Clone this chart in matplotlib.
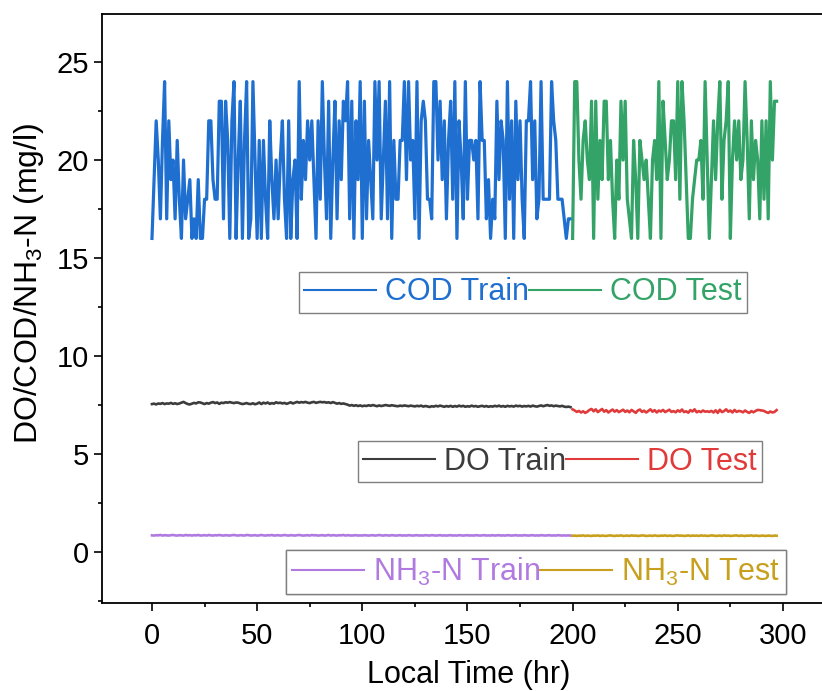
import matplotlib
matplotlib.use("Agg")
import matplotlib.pyplot as plt
from matplotlib.lines import Line2D
from matplotlib.ticker import MultipleLocator

plt.rcParams['font.family'] = ['Liberation Sans', 'DejaVu Sans']
plt.rcParams['mathtext.fontset'] = 'custom'
plt.rcParams['mathtext.rm'] = 'Liberation Sans'
plt.rcParams['mathtext.it'] = 'Liberation Sans:italic'
plt.rcParams['mathtext.bf'] = 'Liberation Sans:bold'

# ---------------- data ----------------
train_start = 0
test_start = 200

cod_train = [
    16, 19, 22, 20, 17, 21, 24, 17, 22, 19,
    20, 17, 21, 18, 16, 20, 17, 18, 19, 16,
    17, 16, 19, 16, 16, 18, 18, 22, 22, 19,
    18, 18, 23, 23, 17, 23, 21, 16, 22, 24,
    16, 20, 23, 16, 21, 24, 16, 17, 24, 20,
    16, 21, 16, 21, 18, 16, 22, 19, 17, 20,
    17, 20, 22, 18, 16, 22, 16, 19, 20, 16,
    24, 18, 21, 19, 22, 20, 22, 19, 16, 22,
    18, 24, 20, 17, 23, 16, 20, 23, 17, 22,
    19, 23, 22, 24, 17, 23, 16, 22, 19, 24,
    16, 23, 17, 21, 19, 17, 24, 20, 24, 17,
    20, 23, 17, 24, 16, 21, 18, 18, 21, 21,
    24, 19, 24, 20, 21, 17, 24, 16, 22, 23,
    22, 18, 18, 17, 24, 24, 20, 23, 19, 22,
    17, 21, 23, 18, 24, 16, 22, 20, 17, 24,
    18, 21, 21, 20, 21, 17, 24, 21, 21, 17,
    19, 16, 18, 17, 23, 19, 22, 21, 16, 24,
    18, 22, 16, 23, 19, 22, 18, 16, 22, 22,
    24, 19, 22, 17, 18, 24, 18, 18, 18, 18,
    24, 22, 21, 18, 18, 18, 17, 16, 17, 17,
]

cod_test = [
    16, 24, 24, 20, 18, 21, 22, 20, 19, 23,
    16, 23, 18, 21, 19, 23, 23, 19, 21, 18,
    16, 20, 18, 23, 20, 23, 18, 17, 16, 21,
    19, 16, 21, 20, 19, 20, 18, 16, 20, 21,
    19, 24, 16, 23, 21, 19, 20, 22, 22, 19,
    24, 18, 24, 22, 19, 16, 16, 18, 19, 20,
    20, 21, 18, 24, 20, 16, 19, 22, 19, 22,
    24, 18, 21, 22, 24, 16, 20, 22, 20, 22,
    19, 20, 24, 21, 17, 22, 19, 21, 20, 17,
    22, 18, 22, 17, 24, 20, 23, 23,
]

do_train = [
    7.55, 7.57, 7.53, 7.58, 7.56, 7.60, 7.55, 7.58, 7.57, 7.61, 7.56, 7.59, 7.55, 7.58, 7.62, 7.66, 7.60, 7.55, 7.53, 7.57,
    7.61, 7.58, 7.64, 7.63, 7.59, 7.55, 7.60, 7.57, 7.62, 7.65, 7.60, 7.63, 7.56, 7.62, 7.60, 7.64, 7.62, 7.65, 7.62, 7.60,
    7.63, 7.62, 7.58, 7.55, 7.57, 7.60, 7.56, 7.55, 7.59, 7.54, 7.57, 7.63, 7.55, 7.62, 7.58, 7.63, 7.56, 7.60, 7.57, 7.64,
    7.60, 7.62, 7.58, 7.61, 7.56, 7.60, 7.64, 7.58, 7.62, 7.66, 7.62, 7.65, 7.63, 7.66, 7.62, 7.60, 7.64, 7.66, 7.61, 7.64,
    7.66, 7.64, 7.65, 7.62, 7.64, 7.60, 7.65, 7.61, 7.57, 7.60, 7.56, 7.58, 7.55, 7.52, 7.47, 7.50, 7.46, 7.49, 7.45, 7.48,
    7.44, 7.47, 7.45, 7.49, 7.46, 7.50, 7.47, 7.44, 7.48, 7.45, 7.47, 7.50, 7.48, 7.46, 7.49, 7.47, 7.45, 7.44, 7.47, 7.45,
    7.48, 7.46, 7.44, 7.47, 7.45, 7.43, 7.46, 7.44, 7.47, 7.42, 7.45, 7.43, 7.40, 7.44, 7.42, 7.46, 7.43, 7.47, 7.44, 7.41,
    7.45, 7.42, 7.46, 7.41, 7.45, 7.42, 7.47, 7.43, 7.46, 7.41, 7.44, 7.42, 7.47, 7.43, 7.45, 7.41, 7.44, 7.46, 7.42, 7.45,
    7.41, 7.44, 7.42, 7.46, 7.43, 7.47, 7.42, 7.45, 7.41, 7.46, 7.43, 7.45, 7.42, 7.47, 7.44, 7.46, 7.42, 7.45, 7.43, 7.46,
    7.42, 7.47, 7.44, 7.42, 7.45, 7.48, 7.44, 7.47, 7.50, 7.46, 7.48, 7.44, 7.47, 7.45, 7.43, 7.46, 7.42, 7.40, 7.42, 7.39,
]

do_test = [
    7.28, 7.22, 7.15, 7.20, 7.12, 7.18, 7.10, 7.16, 7.25, 7.30, 7.18, 7.28, 7.14, 7.22, 7.30, 7.16, 7.24, 7.12, 7.20, 7.27,
    7.16, 7.24, 7.14, 7.20, 7.26, 7.15, 7.22, 7.13, 7.25, 7.18, 7.10, 7.22, 7.27, 7.15, 7.21, 7.12, 7.20, 7.28, 7.16, 7.24,
    7.12, 7.22, 7.17, 7.25, 7.14, 7.20, 7.26, 7.15, 7.19, 7.13, 7.23, 7.16, 7.27, 7.14, 7.18, 7.11, 7.24, 7.17, 7.28, 7.13,
    7.19, 7.14, 7.22, 7.16, 7.18, 7.15, 7.20, 7.12, 7.23, 7.10, 7.26, 7.14, 7.19, 7.28, 7.16, 7.22, 7.12, 7.25, 7.15, 7.20,
    7.18, 7.13, 7.22, 7.15, 7.10, 7.19, 7.13, 7.20, 7.25, 7.24, 7.22, 7.20, 7.14, 7.10, 7.17, 7.12, 7.15, 7.24,
]

nh3_train = [
    0.85, 0.84, 0.86, 0.85, 0.87, 0.84, 0.86, 0.85, 0.84, 0.86, 0.87, 0.85, 0.84, 0.86, 0.85, 0.84, 0.87, 0.85, 0.86, 0.84,
    0.86, 0.85, 0.87, 0.84, 0.85, 0.86, 0.84, 0.87, 0.85, 0.84, 0.86, 0.85, 0.87, 0.85, 0.84, 0.86, 0.85, 0.84, 0.86, 0.87,
    0.85, 0.84, 0.86, 0.85, 0.84, 0.87, 0.86, 0.84, 0.85, 0.86, 0.84, 0.85, 0.87, 0.85, 0.84, 0.86, 0.85, 0.87, 0.84, 0.85,
    0.86, 0.84, 0.85, 0.87, 0.85, 0.84, 0.86, 0.85, 0.84, 0.86, 0.87, 0.85, 0.84, 0.85, 0.86, 0.84, 0.87, 0.85, 0.86, 0.84,
    0.85, 0.86, 0.84, 0.85, 0.87, 0.84, 0.86, 0.85, 0.84, 0.86, 0.85, 0.87, 0.84, 0.86, 0.85, 0.84, 0.85, 0.86, 0.84, 0.85,
    0.84, 0.86, 0.85, 0.84, 0.85, 0.86, 0.84, 0.85, 0.87, 0.85, 0.84, 0.86, 0.85, 0.84, 0.86, 0.85, 0.84, 0.85, 0.86, 0.84,
    0.85, 0.84, 0.86, 0.85, 0.84, 0.85, 0.86, 0.84, 0.85, 0.84, 0.86, 0.85, 0.84, 0.86, 0.85, 0.84, 0.85, 0.86, 0.84, 0.85,
    0.84, 0.85, 0.86, 0.84, 0.85, 0.84, 0.86, 0.85, 0.84, 0.85, 0.86, 0.84, 0.85, 0.84, 0.86, 0.85, 0.84, 0.85, 0.86, 0.84,
    0.85, 0.84, 0.86, 0.84, 0.85, 0.86, 0.84, 0.85, 0.84, 0.86, 0.85, 0.84, 0.85, 0.86, 0.84, 0.85, 0.84, 0.86, 0.85, 0.84,
    0.85, 0.86, 0.84, 0.85, 0.84, 0.86, 0.85, 0.84, 0.85, 0.86, 0.84, 0.85, 0.84, 0.86, 0.85, 0.84, 0.85, 0.84, 0.85, 0.84,
]

nh3_test = [
    0.83, 0.84, 0.82, 0.84, 0.83, 0.85, 0.82, 0.84, 0.83, 0.82, 0.84, 0.83, 0.85, 0.82, 0.84, 0.83, 0.82, 0.84, 0.85, 0.83,
    0.82, 0.84, 0.83, 0.85, 0.82, 0.83, 0.84, 0.82, 0.85, 0.83, 0.84, 0.82, 0.83, 0.85, 0.84, 0.82, 0.83, 0.84, 0.82, 0.85,
    0.83, 0.82, 0.84, 0.83, 0.85, 0.82, 0.84, 0.83, 0.82, 0.84, 0.85, 0.83, 0.84, 0.82, 0.83, 0.85, 0.82, 0.84, 0.83, 0.84,
    0.82, 0.85, 0.83, 0.84, 0.82, 0.83, 0.85, 0.84, 0.82, 0.83, 0.84, 0.82, 0.85, 0.83, 0.84, 0.82, 0.83, 0.84, 0.85, 0.82,
    0.84, 0.83, 0.82, 0.84, 0.83, 0.85, 0.82, 0.84, 0.83, 0.82, 0.84, 0.83, 0.82, 0.84, 0.83, 0.82, 0.84, 0.83,
]

x_train = list(range(train_start, train_start + len(cod_train)))
x_test = list(range(test_start, test_start + len(cod_test)))

# ---------------- styles ----------------
c_cod_tr, c_cod_te = '#1f6fd0', '#34a367'
c_do_tr, c_do_te = '#3c3c3c', '#e03a3a'
c_nh_tr, c_nh_te = '#b07ae0', '#c9a01e'

W, H = 822, 691
fig = plt.figure(figsize=(W / 100, H / 100), dpi=100)
ax_left, ax_right, ax_top, ax_bot = 101.5, 835.5, 14, 603
ax = fig.add_axes([ax_left / W, 1 - ax_bot / H, (ax_right - ax_left) / W, (ax_bot - ax_top) / H])

ax.plot(x_train, cod_train, color=c_cod_tr, lw=2.3)
ax.plot(x_test, cod_test, color=c_cod_te, lw=2.3)
ax.plot(x_train, do_train, color=c_do_tr, lw=1.9)
ax.plot(x_test, do_test, color=c_do_te, lw=1.9)
ax.plot(x_train, nh3_train, color=c_nh_tr, lw=1.9)
ax.plot(x_test, nh3_test, color=c_nh_te, lw=1.9)

ax.set_xlim(-24, 325)
ax.set_ylim(-2.6, 27.45)
ax.xaxis.set_major_locator(MultipleLocator(50))
ax.xaxis.set_minor_locator(MultipleLocator(25))
ax.yaxis.set_major_locator(MultipleLocator(5))
ax.yaxis.set_minor_locator(MultipleLocator(2.5))
ax.tick_params(which='major', direction='out', length=6, width=1.2, labelsize=21, colors='black')
ax.tick_params(which='minor', direction='out', length=3, width=1.2)
ax.tick_params(axis='x', which='major', pad=8)
ax.tick_params(axis='y', which='major', pad=3)
for s in ax.spines.values():
    s.set_linewidth(1.3)

ax.set_xlabel('Local Time (hr)', fontsize=22, labelpad=7)
ax.set_ylabel(r'DO/COD/NH$_3$-N (mg/l)', fontsize=23)
ax.yaxis.set_label_coords((46 - ax_left) / (ax_right - ax_left), 0.543)


def add_legend(labels, colors, center_px, ncol=2):
    handles = [Line2D([], [], color=c, lw=1.5) for c in colors]
    leg = ax.legend(handles, labels, ncol=ncol, loc='center',
                    bbox_to_anchor=(center_px[0] / W, 1 - center_px[1] / H),
                    bbox_transform=fig.transFigure, fontsize=22,
                    handlelength=2.35, handletextpad=0.3, columnspacing=0.0,
                    frameon=True, fancybox=False, edgecolor='#7f7f7f',
                    framealpha=1, borderpad=0.18, labelcolor=colors)
    leg.get_frame().set_linewidth(1.0)
    ax.add_artist(leg)
    return leg


add_legend(['COD Train', 'COD Test'], [c_cod_tr, c_cod_te], (523, 292.5))
add_legend(['DO Train', 'DO Test'], [c_do_tr, c_do_te], (560, 461.5))
add_legend([r'NH$_3$-N Train', r'NH$_3$-N Test'], [c_nh_tr, c_nh_te], (536, 572))

fig.savefig('out.png', dpi=100)
